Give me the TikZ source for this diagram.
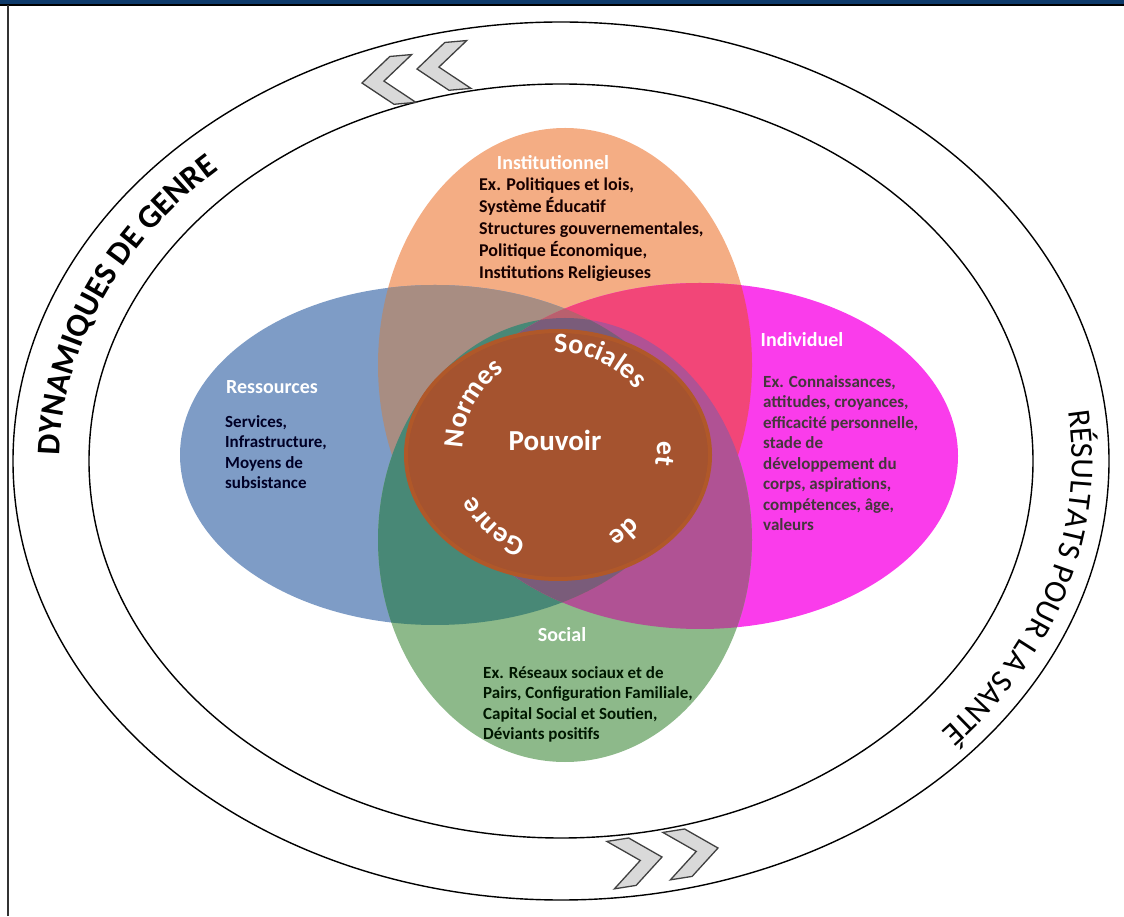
\documentclass[tikz,border=0pt]{standalone}
\usepackage{fontspec}
\setmainfont{Carlito}
\usetikzlibrary{decorations.text}

\definecolor{instcol}{HTML}{F4AD84}
\definecolor{rescol}{HTML}{7E9CC6}
\definecolor{indcol}{HTML}{FA3CEB}
\definecolor{soccol}{HTML}{8DB98A}
\definecolor{ircol}{HTML}{A88D82}
\definecolor{iicol}{HTML}{F24678}
\definecolor{srcol}{HTML}{488876}
\definecolor{sicol}{HTML}{B05294}
\definecolor{iricol}{HTML}{B9606E}
\definecolor{sricol}{HTML}{7A5C7A}
\definecolor{noyau}{HTML}{A5532F}
\definecolor{bandeau}{HTML}{0E3A6B}

\newcommand{\fs}[2]{\fontsize{#1}{#2}\selectfont}
% les quatre ellipses
\def\inst{(565,551) ellipse[x radius=187, y radius=237]}
\def\res{(435,461) ellipse[x radius=255, y radius=170]}
\def\ind{(700,460) ellipse[x radius=258, y radius=173]}
\def\soc{(565,376) ellipse[x radius=187, y radius=222]}

\begin{document}
\begin{tikzpicture}[x=1pt,y=1pt,
	titre/.style={font=\fs{20}{24}\bfseries, text=white, inner sep=0},
	corps/.style={font=\fs{17}{20.5}\bfseries, align=left, anchor=north west, inner sep=0},
	anneau/.style={line width=1.4pt},
	chev/.style={draw=black!75, fill=black!15, line width=1.3pt}]
	\useasboundingbox (0,0) rectangle (1124,916);
	
	% bandeau et bord
	\fill[bandeau] (0,912) rectangle (1124,916);
	\draw[line width=1.5pt] (0,911) -- (1124,911);
	\draw[line width=1.8pt, black!80] (8,0) -- (8,911);
	
	% anneaux
	\draw[anneau] (561,455) ellipse[x radius=548, y radius=439];
	\draw[anneau] (561,455) ellipse[x radius=472, y radius=377];
	
	% ellipses et recouvrements
	\fill[instcol] \inst;
	\fill[rescol] \res;
	\fill[indcol] \ind;
	\fill[soccol] \soc;
	\begin{scope} \clip \inst; \fill[ircol] \res; \end{scope}
	\begin{scope} \clip \inst; \fill[iicol] \ind; \end{scope}
	\begin{scope} \clip \soc; \fill[srcol] \res; \end{scope}
	\begin{scope} \clip \soc; \fill[sicol] \ind; \end{scope}
	\begin{scope} \clip \inst; \clip \res; \fill[iricol] \ind; \end{scope}
	\begin{scope} \clip \soc; \clip \res; \fill[sricol] \ind; \end{scope}
	
	% noyau
	\draw[noyau!88!orange, line width=4pt, fill=noyau] (558,461) ellipse[x radius=152, y radius=124];
	
	% chevrons
	\foreach \cx/\cy/\r in {362/833/5, 417/847/5}
		\draw[chev, shift={(\cx,\cy)}, rotate=\r] (0,0) -- (30,24) -- (52,24) -- (22,0) -- (52,-24) -- (30,-24) -- cycle;
	\foreach \cx/\cy/\r in {662/59/9, 718/68/9}
		\draw[chev, shift={(\cx,\cy)}, rotate=\r] (0,0) -- (-30,24) -- (-52,24) -- (-22,0) -- (-52,-24) -- (-30,-24) -- cycle;
	
	% textes des anneaux
	\begin{scope}
		\fs{33}{33}\bfseries
		\path[decorate, decoration={text along path, text align=center,
			text={DYNAMIQUES DE GENRE}}]
			(561,455) ++(192:501 and 399) arc[start angle=192, end angle=122, x radius=501, y radius=399];
	\end{scope}
	\begin{scope}
		\fs{32}{32}
		\path[decorate, decoration={text along path, text align=center,
			text={RÉSULTATS POUR LA SANTÉ}}]
			(561,455) ++(15:511 and 405) arc[start angle=15, end angle=-49, x radius=511, y radius=405];
	\end{scope}
	
	% titres
	\node[titre] (inst-t) at (553,753) {Institutionnel};
	\node[titre] (res-t) at (272,529) {Ressources};
	\node[titre] (ind-t) at (802,576) {Individuel};
	\node[titre] (soc-t) at (562,281) {Social};
	
	% contenus
	\node[corps, font=\fs{18}{22}\bfseries, text=black!85!red!60!black] (inst) at (479,738)
		{Ex. Politiques et lois,\\Système Éducatif\\Structures gouvernementales,\\Politique Économique,\\Institutions Religieuses};
	\node[corps, text=black!85!blue] (res) at (225,501)
		{Services,\\Infrastructure,\\Moyens de\\subsistance};
	\node[corps, text=black!85!magenta] (ind) at (763,541)
		{Ex. Connaissances,\\attitudes, croyances,\\efficacité personnelle,\\stade de\\développement du\\corps, aspirations,\\compétences, âge,\\valeurs};
	\node[corps, text=black!85!green!60!black] (soc) at (483,250)
		{Ex. Réseaux sociaux et de\\Pairs, Configuration Familiale,\\Capital Social et Soutien,\\Déviants positifs};
	
	% centre
	\node[font=\fs{29}{29}\bfseries, text=white] (pouv) at (555,476) {Pouvoir};
	\begin{scope}
		\fs{28}{28}\bfseries
		\foreach \mot/\de/\a in {Normes/179/125, Sociales/116/16, et/28/-32, de/-22/-82, Genre/-101/-161}
			\path[decorate, decoration={text along path, text align=center, text/.expanded=\mot, text color=white}]
				(560,466) ++(\de:97) arc[start angle=\de, end angle=\a, radius=97];
	\end{scope}
\end{tikzpicture}
\end{document}
